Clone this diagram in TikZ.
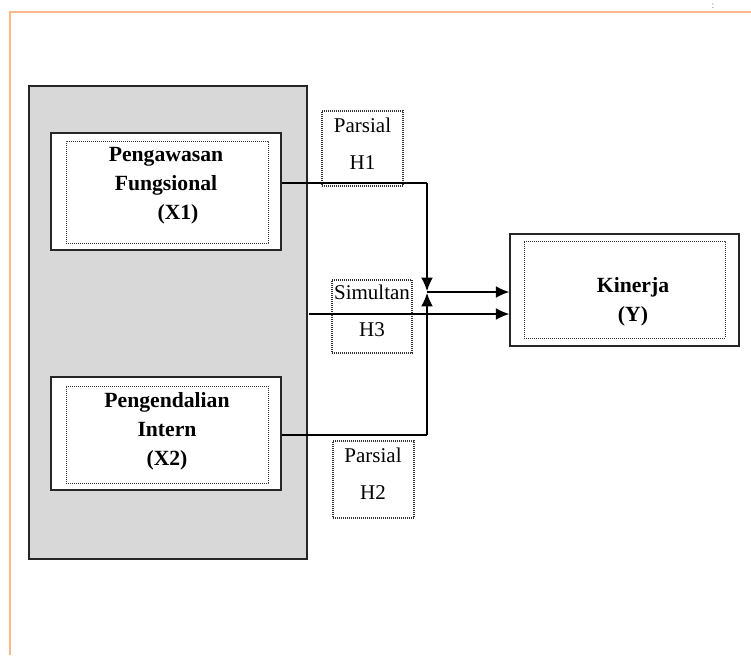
\documentclass[tikz,border=0pt]{standalone}
\usepackage{fontspec}
\setmainfont{Liberation Serif}
\usetikzlibrary{arrows.meta}
\definecolor{panelgray}{HTML}{D8D8D8}
\definecolor{frameorange}{HTML}{F9B98A}
\tikzset{
  outerbox/.style={draw=black!85, line width=0.9pt, fill=white, inner sep=0pt},
  innerbox/.style={draw=black!80, line width=0.6pt, dash pattern=on 0.6pt off 0.6pt, inner sep=0pt},
  hypbox/.style={draw=black!80, line width=0.7pt, dash pattern=on 0.6pt off 0.6pt, fill=white, inner sep=0pt, minimum width=48.6pt},
  vartext/.style={align=center, font=\fontsize{13}{17.4}\selectfont\bfseries, inner sep=0pt},
  hyptext/.style={align=center, font=\fontsize{12.6}{22.2}\selectfont, inner sep=0pt},
  conn/.style={line width=0.7pt, black},
  arr/.style={conn, -{Latex[length=8pt,width=7pt]}},
}
\begin{document}
\begin{tikzpicture}[x=0.6pt, y=-0.6pt]
\useasboundingbox (0,0) rectangle (751,655);
% page frame
\draw[frameorange, line width=1.2pt] (9.5,655) -- (9.5,11.5) -- (751,11.5);
\node[gray, font=\fontsize{6}{6}\selectfont, inner sep=0pt] (colon) at (713,6) {:};
% gray panel
\node[draw=black!85, line width=0.9pt, fill=panelgray, minimum width=166.8pt, minimum height=283.8pt, inner sep=0pt] (panel) at (168,322.5) {};
% X1
\node[outerbox, minimum width=138pt, minimum height=70.2pt] (x1) at (166,191.5) {};
\node[innerbox, minimum width=121.2pt, minimum height=61.2pt] (x1in) at (167,192) {};
\node[vartext] (x1t) at (166,186) {Pengawasan\\Fungsional\\\hspace*{14.4pt}(X1)};
% X2
\node[outerbox, minimum width=138pt, minimum height=67.8pt] (x2) at (166,433.5) {};
\node[innerbox, minimum width=121.2pt, minimum height=58.2pt] (x2in) at (167,434.5) {};
\node[vartext] (x2t) at (167,431) {Pengendalian\\Intern\\(X2)};
% Y
\node[outerbox, minimum width=137.4pt, minimum height=67.2pt] (y) at (624.5,290) {};
\node[innerbox, minimum width=120.6pt, minimum height=58.2pt] (yin) at (624.5,289.5) {};
\node[vartext] (yt) at (633,302) {Kinerja\\(Y)};
% hypothesis boxes
\node[hypbox, minimum height=45pt] (h1) at (362.5,148.5) {};
\node[hyptext] (h1t) at (362.5,143.5) {Parsial\\H1};
\node[hypbox, minimum width=48pt, minimum height=43.8pt] (h3) at (372,316.5) {};
\node[hyptext] (h3t) at (372,310.5) {Simultan\\H3};
\node[hypbox, minimum height=46.2pt] (h2) at (373.5,479.5) {};
\node[hyptext] (h2t) at (373,473.5) {Parsial\\H2};
% connectors
\coordinate (c1) at (427,183);
\coordinate (c2) at (427,435);
\coordinate (tipdown) at (427,291);
\coordinate (tipup) at (427,293);
\coordinate (hA) at (427,292);
\coordinate (hB) at (309,314);
\draw[conn] (x1.east |- c1) -- (c1);
\draw[arr] (c1) -- (tipdown);
\draw[conn] (x2.east |- c2) -- (c2);
\draw[arr] (c2) -- (tipup);
\draw[arr] (hA) -- (y.west |- hA);
\draw[arr] (hB) -- (y.west |- hB);
\end{tikzpicture}
\end{document}
